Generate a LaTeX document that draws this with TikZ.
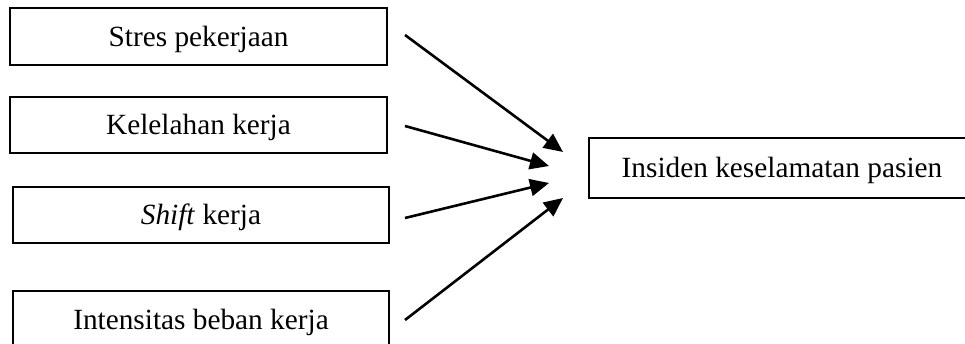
\documentclass[tikz,border=0pt]{standalone}
\usepackage{fontspec}
\setmainfont{Liberation Serif}
\usetikzlibrary{arrows.meta}
\begin{document}
\begin{tikzpicture}[x=1pt,y=-1pt,
  box/.style={draw, line width=2pt, rectangle, inner sep=0pt,
    font=\fontsize{29.3}{34}\selectfont, text height=22pt, text depth=2pt},
  arr/.style={line width=2.6pt, -{Triangle[length=19pt,width=17pt]}}]
\useasboundingbox (0,0) rectangle (965,344);
\clip (0,0) rectangle (965,344);
\fill[white] (0,0) rectangle (965,344);
\node[box, minimum width=377pt, minimum height=57pt] (b1) at (198.5,36.5) {Stres pekerjaan};
\node[box, minimum width=377pt, minimum height=56pt] (b2) at (198.5,125) {Kelelahan kerja};
\node[box, minimum width=376pt, minimum height=56pt] (b3) at (201,215) {\textit{Shift} kerja};
\node[box, minimum width=376pt, minimum height=57pt] (b4) at (201,319.5) {Intensitas beban kerja};
\node[box, minimum width=386pt, minimum height=60pt] (out) at (782,168) {Insiden keselamatan pasien};
\coordinate (s1) at (405,35);
\coordinate (s2) at (405,126);
\coordinate (s3) at (405,218);
\coordinate (s4) at (405,320);
\coordinate (t1) at (563,152);
\coordinate (t2) at (549,166);
\coordinate (t3) at (549,183);
\coordinate (t4) at (563,198);
\draw[arr] (s1) -- (t1);
\draw[arr] (s2) -- (t2);
\draw[arr] (s3) -- (t3);
\draw[arr] (s4) -- (t4);
\end{tikzpicture}
\end{document}
